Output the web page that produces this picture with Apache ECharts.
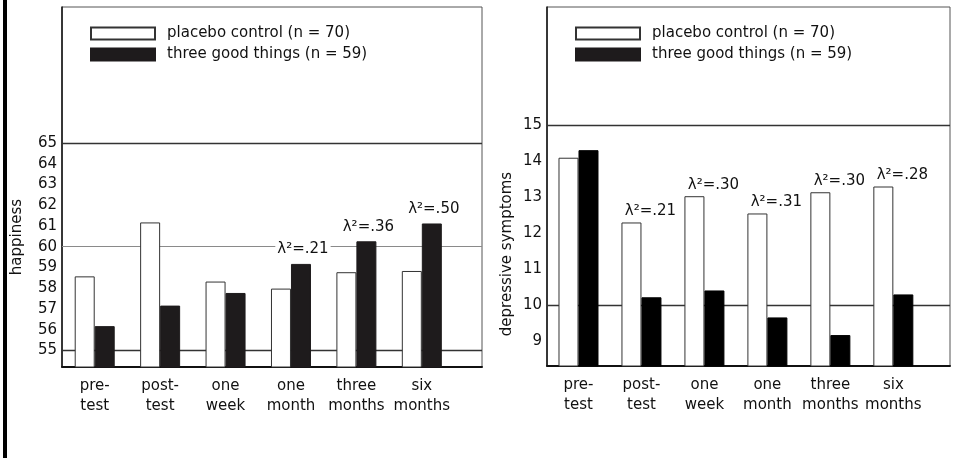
<!DOCTYPE html>
<html><head><meta charset="utf-8">
<script src="https://cdn.jsdelivr.net/npm/echarts@6/dist/echarts.min.js"></script>
<style>html,body{margin:0;padding:0;background:#fff}#c{width:953px;height:458px}</style>
</head><body><div id="c"></div>
<script>
const categories = ['pre-\ntest', 'post-\ntest', 'one\nweek', 'one\nmonth', 'three\nmonths', 'six\nmonths'];
const seriesNames = ['placebo control (n = 70)', 'three good things (n = 59)'];
const happyPlacebo = [58.57, 61.17, 58.32, 57.98, 58.77, 58.83];
const happyThree   = [56.17, 57.16, 57.77, 59.17, 60.26, 61.12];
const happyEffect  = ['', '', '', 'λ²=.21', 'λ²=.36', 'λ²=.50'];
const happyTicks   = [55, 56, 57, 58, 59, 60, 61, 62, 63, 64, 65];
const happyRefLines = [55, 60, 65];
const depPlacebo = [14.09, 12.29, 13.02, 12.54, 13.13, 13.29];
const depThree   = [14.30, 10.21, 10.40, 9.65, 9.16, 10.29];
const depEffect  = ['', 'λ²=.21', 'λ²=.30', 'λ²=.31', 'λ²=.30', 'λ²=.28'];
const depTicks   = [9, 10, 11, 12, 13, 14, 15];
const depRefLines = [10, 15];

const FONT = 'DejaVu Sans';
const TXT = '#111';
const isInt = v => Math.abs(v - Math.round(v)) < 1e-6;

function xAxisCfg(gi) {
  return {
    type: 'value', gridIndex: gi, min: -0.5, max: gi === 0 ? 5.92 : 5.9, interval: 0.5,
    axisLine: { show: true, onZero: false, lineStyle: { color: '#111', width: 2 } },
    axisTick: { show: false }, splitLine: { show: false },
    axisLabel: {
      color: TXT, fontFamily: FONT, fontSize: 15, lineHeight: 20, margin: 9,
      showMinLabel: true, showMaxLabel: true,
      formatter: v => (isInt(v) && v >= 0 && v < categories.length) ? categories[Math.round(v)] : ''
    }
  };
}
function yAxisCfg(gi, min, max, interval, ticks) {
  return {
    type: 'value', gridIndex: gi, min: min, max: max, interval: interval,
    axisLine: { show: true, onZero: false, lineStyle: { color: '#111', width: 1.5 } },
    axisTick: { show: false }, splitLine: { show: false },
    axisLabel: {
      color: TXT, fontFamily: FONT, fontSize: 15, margin: 5,
      formatter: v => (isInt(v) && ticks.indexOf(Math.round(v)) >= 0) ? String(Math.round(v)) : ''
    }
  };
}
function refLines(vals, lightVal) {
  return {
    silent: true, symbol: ['none', 'none'], z: 1, label: { show: false },
    data: vals.map(v => ({ yAxis: v, lineStyle: { color: v === lightVal ? '#8a8a8a' : '#333', width: v === lightVal ? 1 : 1.3, type: 'solid' } }))
  };
}
const lblStyle = { color: TXT, fontFamily: FONT, fontSize: 15, backgroundColor: '#fff', padding: [0, 2] };
const legendText = { color: TXT, fontFamily: FONT, fontSize: 15, padding: [0, 0, 0, 7] };

const option = {
  animation: false,
  backgroundColor: '#fff',
  grid: [
    { left: 62, top: 7, width: 420, height: 360, show: true, borderColor: '#555', borderWidth: 1 },
    { left: 547, top: 7, width: 420, height: 359, show: true, borderColor: '#555', borderWidth: 1 }
  ],
  legend: [
    { left: 90, top: 26, padding: 0, orient: 'vertical', itemWidth: 64, itemHeight: 12, itemGap: 6, icon: 'rect',
      data: seriesNames, selectedMode: false, textStyle: legendText },
    { left: 575, top: 26, padding: 0, orient: 'vertical', itemWidth: 64, itemHeight: 12, itemGap: 6, icon: 'rect',
      data: seriesNames, selectedMode: false, textStyle: legendText }
  ],
  xAxis: [xAxisCfg(0), xAxisCfg(1)],
  yAxis: [
    yAxisCfg(0, 54.2, 71.557, 0.2, happyTicks),
    yAxisCfg(1, 8.3, 18.28, 0.1, depTicks)
  ],
  graphic: [
    { type: 'rect', left: 3, top: 0, shape: { width: 4, height: 458 }, style: { fill: '#000' } },
    { type: 'text', x: 17.5, y: 237, rotation: Math.PI / 2,
      style: { text: 'happiness', fill: TXT, font: '15px "DejaVu Sans"', align: 'center', verticalAlign: 'middle' } },
    { type: 'text', x: 507, y: 254, rotation: Math.PI / 2,
      style: { text: 'depressive symptoms', fill: TXT, font: '15px "DejaVu Sans"', align: 'center', verticalAlign: 'middle' } }
  ],
  series: [
    { name: seriesNames[0], type: 'bar', xAxisIndex: 0, yAxisIndex: 0, barWidth: 20, barGap: '0%',
      itemStyle: { color: '#fff', borderColor: '#333', borderWidth: 1 },
      data: happyPlacebo.map((v, i) => [i, v]),
      markLine: refLines(happyRefLines, 60) },
    { name: seriesNames[1], type: 'bar', xAxisIndex: 0, yAxisIndex: 0, barWidth: 20, barGap: '0%',
      itemStyle: { color: '#1e1b1c', borderColor: '#1e1b1c', borderWidth: 1 },
      label: Object.assign({ position: 'top', distance: 7, offset: [2, 0],
        formatter: p => happyEffect[p.dataIndex] }, lblStyle),
      data: happyThree.map((v, i) => ({ value: [i, v], label: { show: happyEffect[i] !== '' } })) },
    { name: seriesNames[0], type: 'bar', xAxisIndex: 1, yAxisIndex: 1, barWidth: 20, barGap: '0%',
      itemStyle: { color: '#fff', borderColor: '#333', borderWidth: 1 },
      label: Object.assign({ position: 'top', distance: 4, offset: [19, 0],
        formatter: p => depEffect[p.dataIndex] }, lblStyle),
      data: depPlacebo.map((v, i) => ({ value: [i, v], label: { show: depEffect[i] !== '' } })),
      markLine: refLines(depRefLines, -1) },
    { name: seriesNames[1], type: 'bar', xAxisIndex: 1, yAxisIndex: 1, barWidth: 20, barGap: '0%',
      itemStyle: { color: '#000', borderColor: '#000', borderWidth: 1 },
      data: depThree.map((v, i) => [i, v]) }
  ]
};
const chart = echarts.init(document.getElementById('c'), null, { renderer: 'canvas' });
chart.setOption(option);
</script></body></html>
